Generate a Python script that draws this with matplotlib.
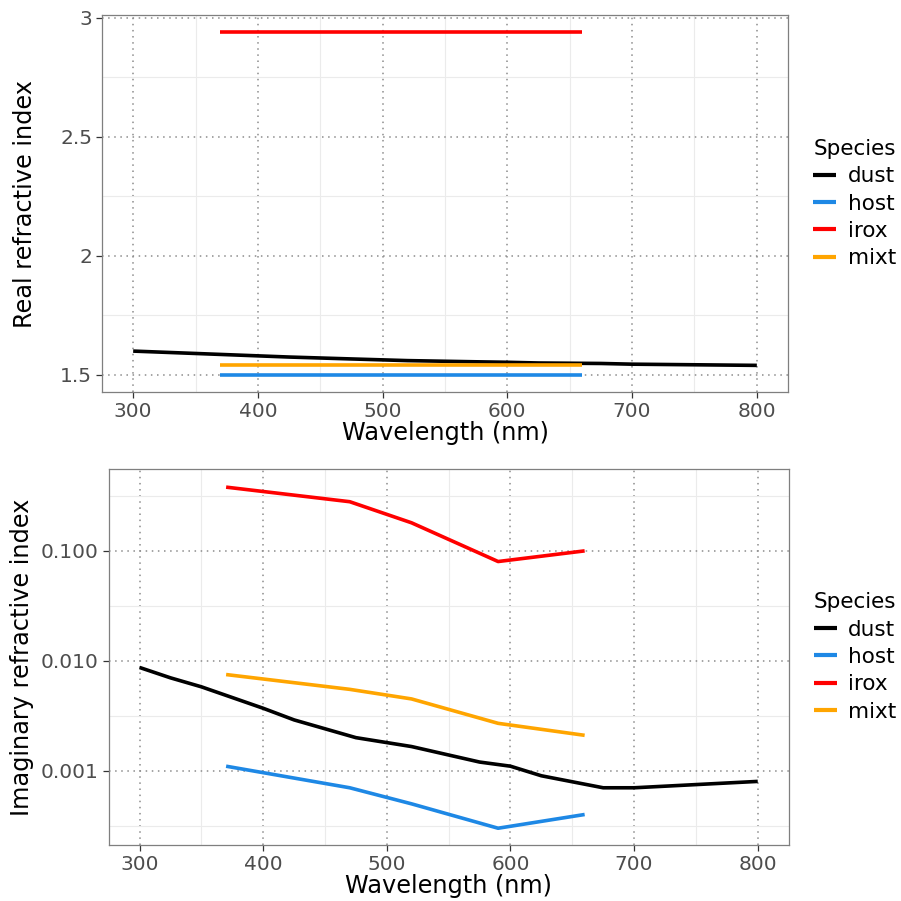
import matplotlib
matplotlib.use("Agg")
import matplotlib.pyplot as plt
from matplotlib.ticker import FixedLocator, FixedFormatter

# species and their colours
species = ["dust", "host", "irox", "mixt"]
colors = {"dust": "#000000", "host": "#1E88E5", "irox": "#FF0000", "mixt": "#FFA500"}

# wavelengths (nm)
wl_dust = [300, 325, 350, 400, 425, 475, 520, 575, 600, 625, 675, 700, 800]
wl_other = [370, 470, 520, 590, 660]

# real part of refractive index
real_dust = [1.600, 1.595, 1.590, 1.580, 1.575, 1.567, 1.560, 1.555, 1.553, 1.550, 1.548, 1.545, 1.540]
real_host = [1.50, 1.50, 1.50, 1.50, 1.50]
real_irox = [2.94, 2.94, 2.94, 2.94, 2.94]
real_mixt = [1.54, 1.54, 1.54, 1.54, 1.54]

# imaginary part of refractive index
imag_dust = [0.0087, 0.0070, 0.0058, 0.0037, 0.0029, 0.0020, 0.00166, 0.0012, 0.0011,
             0.0009, 0.0007, 0.0007, 0.0008]
imag_host = [0.0011, 0.0007, 0.0005, 0.0003, 0.0004]
imag_irox = [0.38, 0.28, 0.18, 0.08, 0.10]
imag_mixt = [0.0075, 0.0055, 0.0045, 0.0027, 0.0021]

real_data = {"dust": (wl_dust, real_dust), "host": (wl_other, real_host),
             "irox": (wl_other, real_irox), "mixt": (wl_other, real_mixt)}
imag_data = {"dust": (wl_dust, imag_dust), "host": (wl_other, imag_host),
             "irox": (wl_other, imag_irox), "mixt": (wl_other, imag_mixt)}

fig = plt.figure(figsize=(9.01, 9.01), dpi=100)
ax1 = fig.add_axes([0.1132, 0.5649, 0.7614, 0.4184])
ax2 = fig.add_axes([0.1206, 0.0622, 0.7547, 0.4173])


def style_axes(ax):
    for s in ax.spines.values():
        s.set_color("#7F7F7F")
        s.set_linewidth(0.9)
    ax.tick_params(which="major", direction="out", length=4, width=0.9, color="#333333",
                   labelsize=14.5, labelcolor="#4D4D4D", pad=3)
    ax.tick_params(which="minor", length=0)
    ax.grid(which="minor", color="#EBEBEB", linewidth=0.8, linestyle="-")
    ax.grid(which="major", color="#8C8C8C", linewidth=1.1, linestyle=(0, (1, 3)))
    ax.set_axisbelow(True)
    ax.set_xlim(275, 825)
    ax.xaxis.set_major_locator(FixedLocator([300, 400, 500, 600, 700, 800]))
    ax.xaxis.set_minor_locator(FixedLocator([350, 450, 550, 650, 750]))
    ax.set_xlabel("Wavelength (nm)", fontsize=17.3, labelpad=0)


def add_legend(ax):
    leg = ax.legend(title="Species", loc="center left", bbox_to_anchor=(1.015, 0.5),
                    frameon=False, fontsize=15.5, title_fontsize=15.5,
                    handlelength=1.05, handletextpad=0.55, labelspacing=0.34,
                    alignment="left", borderaxespad=0.3)
    for line in leg.get_lines():
        line.set_linewidth(3)


for sp in species:
    x, y = real_data[sp]
    ax1.plot(x, y, color=colors[sp], linewidth=2.6, label=sp, solid_capstyle="butt")
style_axes(ax1)
ax1.set_ylim(1.428, 3.012)
ax1.yaxis.set_major_locator(FixedLocator([1.5, 2.0, 2.5, 3.0]))
ax1.yaxis.set_major_formatter(FixedFormatter(["1.5", "2", "2.5", "3"]))
ax1.yaxis.set_minor_locator(FixedLocator([1.75, 2.25, 2.75]))
ax1.set_ylabel("Real refractive index", fontsize=17.3, labelpad=17)
add_legend(ax1)

for sp in species:
    x, y = imag_data[sp]
    ax2.plot(x, y, color=colors[sp], linewidth=2.6, label=sp, solid_capstyle="butt")
ax2.set_yscale("log")
style_axes(ax2)
ax2.set_ylim(10 ** -3.675, 10 ** -0.255)
ax2.yaxis.set_major_locator(FixedLocator([0.001, 0.01, 0.1]))
ax2.yaxis.set_major_formatter(FixedFormatter(["0.001", "0.010", "0.100"]))
ax2.yaxis.set_minor_locator(FixedLocator([10 ** -3.5, 10 ** -2.5, 10 ** -1.5, 10 ** -0.5]))
ax2.yaxis.set_minor_formatter(FixedFormatter(["", "", "", ""]))
ax2.set_ylabel("Imaginary refractive index", fontsize=17.3, labelpad=5)
add_legend(ax2)

fig.savefig("out.png", dpi=100, facecolor="white")
